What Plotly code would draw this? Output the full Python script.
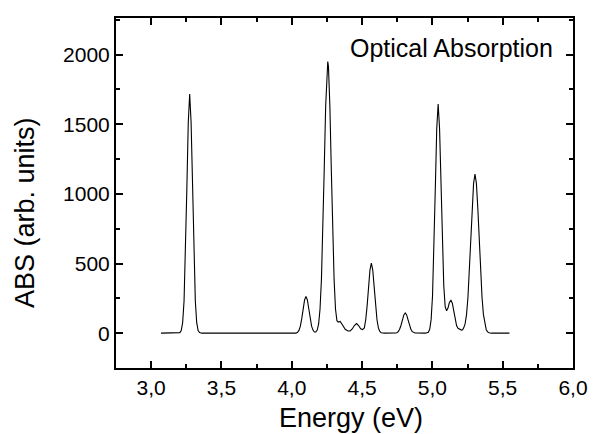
import plotly.graph_objects as go

# Energy (eV) and absorption (arb. units)
energy = [3.07, 3.20, 3.204, 3.214, 3.224, 3.234, 3.244, 3.254, 3.264, 3.274,
          3.284, 3.294, 3.304, 3.314, 3.324, 3.334, 3.344, 3.36,
          4.03, 4.041, 4.051, 4.061, 4.071, 4.081, 4.091, 4.101, 4.111, 4.121,
          4.131, 4.141, 4.151, 4.161, 4.171, 4.181, 4.191, 4.201, 4.211, 4.221,
          4.231, 4.241, 4.251, 4.256, 4.261, 4.271, 4.281, 4.291, 4.301, 4.311,
          4.321, 4.331, 4.344, 4.36, 4.38, 4.40, 4.415, 4.43, 4.445, 4.461,
          4.475, 4.49, 4.503, 4.516, 4.526, 4.536, 4.546, 4.556, 4.566, 4.576,
          4.586, 4.596, 4.606, 4.616, 4.626, 4.636, 4.66, 4.737, 4.747, 4.757,
          4.767, 4.777, 4.787, 4.797, 4.807, 4.817, 4.827, 4.837, 4.847, 4.857,
          4.867, 4.877, 4.95, 4.971, 4.981, 4.991, 5.001, 5.011, 5.021, 5.031,
          5.041, 5.051, 5.061, 5.071, 5.081, 5.091, 5.101, 5.111, 5.121, 5.132,
          5.142, 5.152, 5.162, 5.172, 5.182, 5.197, 5.207, 5.215, 5.223, 5.233,
          5.243, 5.253, 5.263, 5.273, 5.283, 5.293, 5.303, 5.313, 5.323, 5.333,
          5.343, 5.353, 5.363, 5.373, 5.383, 5.393, 5.403, 5.42, 5.548]
absorption = [0, 0, 4, 19, 75, 232, 557, 1041, 1514, 1716,
              1514, 1041, 557, 232, 75, 19, 4, 0,
              0, 6, 20, 50, 104, 175, 238, 264, 238, 175,
              104, 50, 22, 8, 8, 22, 66, 173, 386, 732,
              1183, 1629, 1911, 1950, 1911, 1629, 1183, 732, 386, 173,
              90, 80, 84, 60, 28, 16, 16, 30, 55, 69,
              55, 32, 26, 38, 96, 198, 332, 453, 502, 453,
              332, 198, 96, 38, 12, 3, 0, 1, 3, 11,
              28, 57, 96, 131, 145, 131, 96, 57, 28, 11,
              3, 1, 0, 7, 28, 97, 268, 592, 1045, 1469,
              1645, 1469, 1045, 640, 340, 190, 160, 180, 220, 236,
              215, 160, 95, 55, 35, 24, 22, 25, 38, 68,
              135, 258, 440, 667, 899, 1075, 1141, 1075, 899, 667,
              440, 258, 133, 62, 25, 9, 3, 0, 0]

x_range = [2.75, 6.0]
y_range = [-250, 2262]
x_ticks = [3.0, 3.5, 4.0, 4.5, 5.0, 5.5, 6.0]
y_ticks = [0, 500, 1000, 1500, 2000]

fig = go.Figure()
fig.add_trace(go.Scatter(x=energy, y=absorption, mode="lines",
                         line=dict(color="black", width=1.1),
                         showlegend=False, hoverinfo="skip"))

font = "Liberation Sans, Arial, sans-serif"
axis_common = dict(showline=True, linecolor="black", linewidth=2, mirror="ticks",
                   ticks="inside", ticklen=7, tickwidth=1.5, tickcolor="black",
                   showgrid=False, zeroline=False,
                   tickfont=dict(family=font, size=21, color="black"))

fig.update_xaxes(range=x_range, tickvals=x_ticks, tickformat=".1f",
                 minor=dict(ticks="inside", ticklen=4, tickwidth=1.5, dtick=0.25,
                            tick0=2.75, tickcolor="black", showgrid=False),
                 **axis_common)
fig.update_yaxes(range=y_range, tickvals=y_ticks,
                 minor=dict(ticks="inside", ticklen=4, tickwidth=1.5, dtick=250,
                            tick0=0, tickcolor="black", showgrid=False),
                 **axis_common)

fig.add_annotation(text="Optical Absorption", xref="paper", yref="paper",
                   x=0.96, y=0.915, xanchor="right", yanchor="middle", showarrow=False,
                   font=dict(family=font, size=25, color="black"))
fig.add_annotation(text="Energy (eV)", xref="paper", yref="paper",
                   x=0.515, y=-0.142, xanchor="center", yanchor="middle", showarrow=False,
                   font=dict(family=font, size=27, color="black"))
fig.add_annotation(text="ABS (arb. units)", xref="paper", yref="paper", textangle=-90,
                   x=-0.199, y=0.443, xanchor="center", yanchor="middle", showarrow=False,
                   font=dict(family=font, size=27, color="black"))

# page body has an 8px margin, so the figure is drawn 8px smaller and offset
fig.update_layout(width=588, height=426, separators=", ",
                  margin=dict(l=108, r=18, t=8, b=66),
                  plot_bgcolor="white", paper_bgcolor="white")

fig.write_html("out.html")
